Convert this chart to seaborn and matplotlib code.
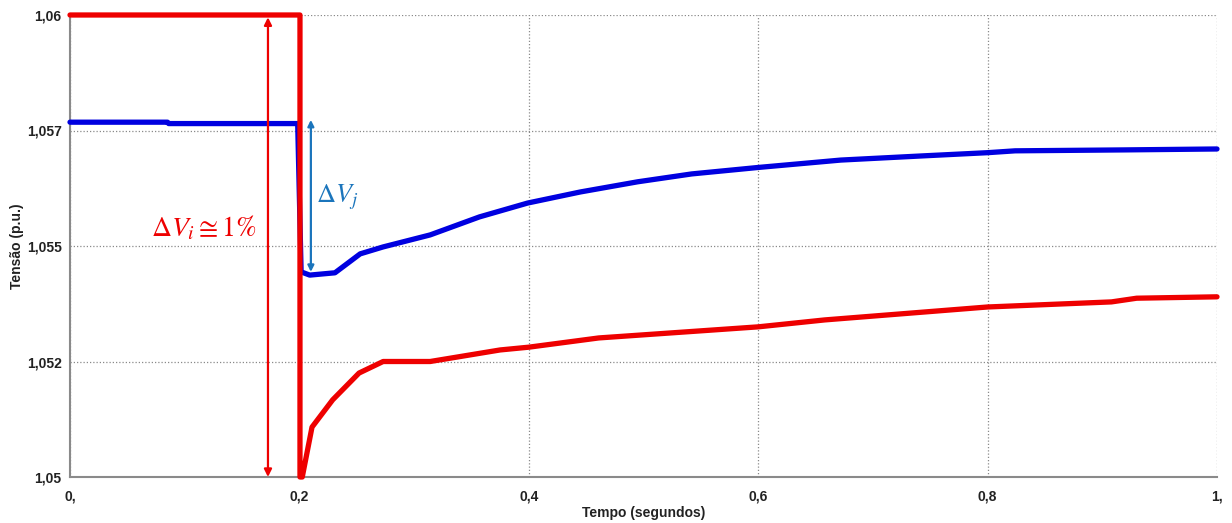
import matplotlib
matplotlib.use("Agg")
import matplotlib.pyplot as plt
import seaborn as sns
import pandas as pd

# ---- data ----
t_blue = [0.0, 0.085, 0.086, 0.1985, 0.2015, 0.209, 0.231, 0.253, 0.273, 0.314, 0.357,
          0.399, 0.445, 0.495, 0.542, 0.600, 0.672, 0.743, 0.800, 0.824, 0.919, 1.0]
v_blue = [1.05768, 1.05768, 1.05765, 1.05765, 1.05444, 1.05437, 1.05442, 1.05483, 1.05498,
          1.05524, 1.05563, 1.05593, 1.05617, 1.05639, 1.05656, 1.05670, 1.05686, 1.05695,
          1.05702, 1.05706, 1.05708, 1.05710]

t_red = [0.0, 0.2005, 0.2005, 0.2025, 0.211, 0.229, 0.252, 0.273, 0.314, 0.375, 0.400,
         0.461, 0.600, 0.658, 0.800, 0.908, 0.930, 1.0]
v_red = [1.06, 1.06, 1.05, 1.05, 1.05108, 1.05167, 1.05225, 1.0525, 1.0525, 1.05275, 1.05281,
         1.05301, 1.05325, 1.05340, 1.05368, 1.05379, 1.05387, 1.05390]

x_ticks = [0.0, 0.2, 0.4, 0.6, 0.8, 1.0]
x_tick_labels = ["0,", "0,2", "0,4", "0,6", "0,8", "1,"]
y_ticks = [1.05, 1.0525, 1.055, 1.0575, 1.06]
y_tick_labels = ["1,05", "1,052", "1,055", "1,057", "1,06"]

x_label = "Tempo (segundos)"
y_label = "Tensão (p.u.)"
label_i = r"$\Delta V_i \cong \mathrm{1\%}$"
label_j = r"$\Delta V_j$"

# ---- style ----
sns.set_style("white")
plt.rcParams["font.family"] = ["Liberation Sans", "DejaVu Sans"]
plt.rcParams["mathtext.fontset"] = "stix"

RED = "#ee0000"
BLUE = "#0000e0"
ARROW_BLUE = "#1b75bc"
GRAY = "#8a8a8a"

fig = plt.figure(figsize=(12.32, 5.23), dpi=100)
ax = fig.add_axes([70 / 1232, 1 - 477 / 523, (1217 - 70) / 1232, (477 - 15) / 523])

df_b = pd.DataFrame({"t": t_blue, "v": v_blue})
df_r = pd.DataFrame({"t": t_red, "v": v_red})

sns.lineplot(data=df_b, x="t", y="v", ax=ax, color=BLUE, lw=3.8, sort=False,
             estimator=None, clip_on=False, zorder=3)
sns.lineplot(data=df_r, x="t", y="v", ax=ax, color=RED, lw=3.8, sort=False,
             estimator=None, clip_on=False, zorder=4)

ax.set_xlim(0, 1)
ax.set_ylim(1.05, 1.06)
ax.set_xticks(x_ticks)
ax.set_xticklabels(x_tick_labels)
ax.set_yticks(y_ticks)
ax.set_yticklabels(y_tick_labels)

ax.grid(True, color=GRAY, linestyle=(0, (1, 1.6)), lw=0.9)
ax.set_axisbelow(True)
for s in ["top", "right"]:
    ax.spines[s].set_visible(False)
for s in ["left", "bottom"]:
    ax.spines[s].set_color(GRAY)
    ax.spines[s].set_linewidth(1.5)

ax.tick_params(axis="both", which="major", length=3, width=1, color=GRAY,
               labelsize=10, labelcolor="#222222", direction="out", pad=3)
ax.tick_params(axis="x", pad=6)
for lbl in ax.get_xticklabels() + ax.get_yticklabels():
    lbl.set_fontweight("bold")

ax.set_xlabel(x_label, fontsize=10, fontweight="bold", color="#222222")
ax.set_ylabel(y_label, fontsize=10, fontweight="bold", color="#222222")
ax.xaxis.set_label_coords(0.5, -0.078)
ax.yaxis.set_label_coords(-0.046, 0.5)
ax.xaxis.label.set_va("center")
ax.yaxis.label.set_va("center")

# ---- annotations ----
ax.annotate("", xy=(0.1726, 1.05995), xytext=(0.1726, 1.05),
            arrowprops=dict(arrowstyle="<|-|>", color=RED, lw=1.6, mutation_scale=11,
                            shrinkA=0, shrinkB=0), annotation_clip=False, zorder=5)
ax.annotate("", xy=(0.210, 1.05773), xytext=(0.210, 1.05444),
            arrowprops=dict(arrowstyle="<|-|>", color=ARROW_BLUE, lw=1.6, mutation_scale=9,
                            shrinkA=0, shrinkB=0), zorder=5)
ax.text(0.117, 1.05539, label_i, color=RED, fontsize=20, ha="center", va="center")
ax.text(0.233, 1.05605, label_j, color=ARROW_BLUE, fontsize=19, ha="center", va="center")

fig.savefig("out.png", dpi=100)
